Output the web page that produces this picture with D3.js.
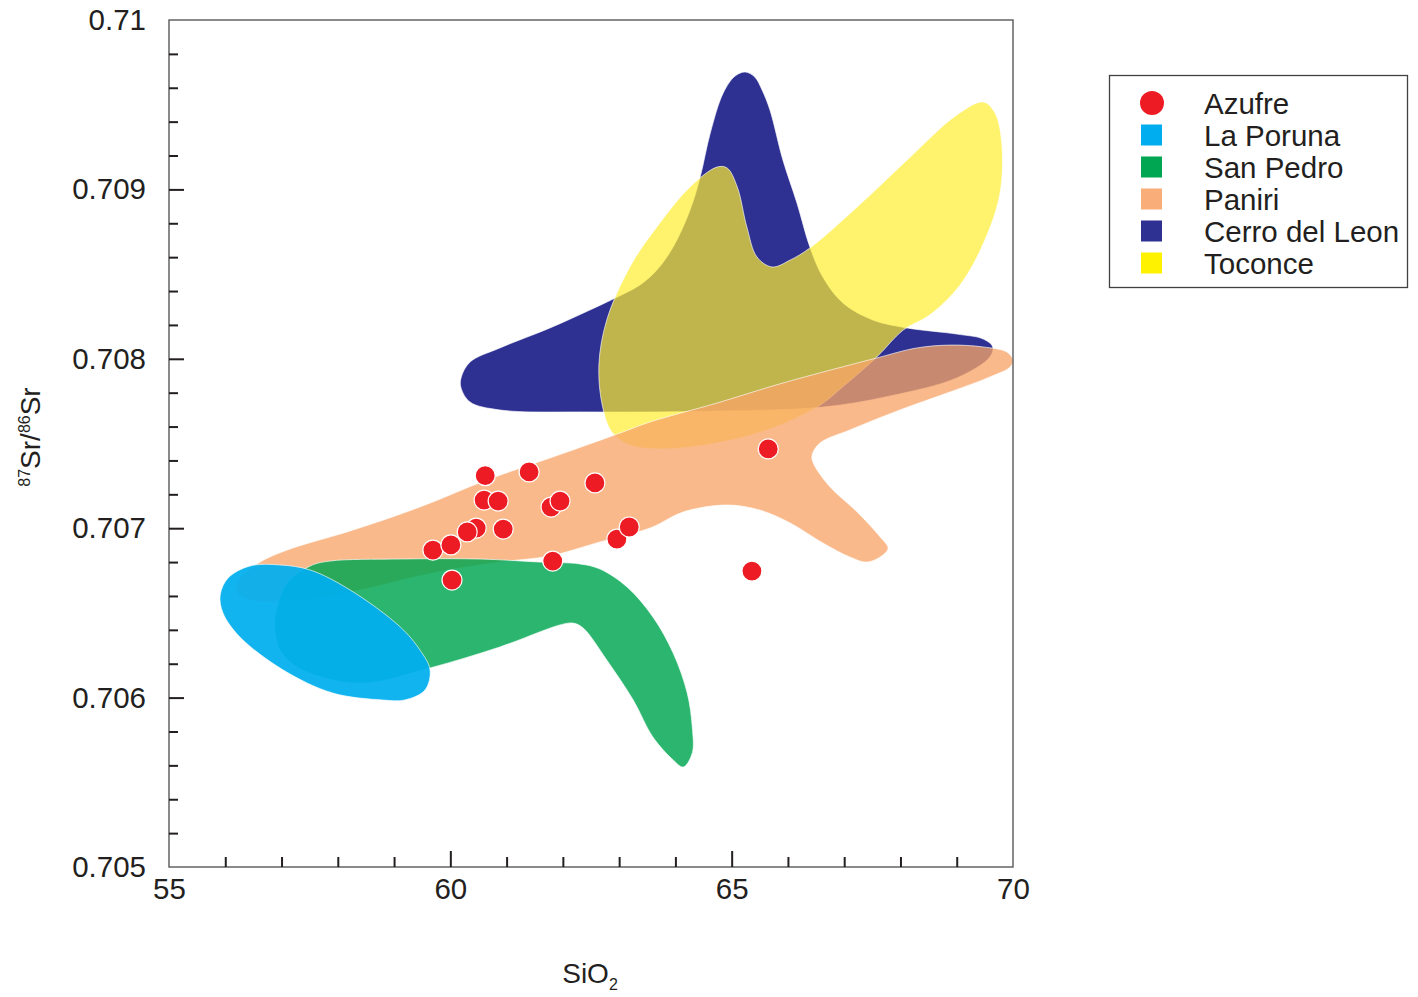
<!DOCTYPE html>
<html><head><meta charset="utf-8">
<script src="https://cdn.jsdelivr.net/npm/d3@7"></script>
<style>
body{margin:0;background:#fff;}
text{font-family:"Liberation Sans", Arial, Helvetica, sans-serif; fill:#231F20;}
</style></head><body>
<svg id="chart" width="1418" height="997"></svg>
<script>
// ---------- data ----------
const xMajorTicks = [55, 60, 65, 70];
const yMajorTicks = [0.705, 0.706, 0.707, 0.708, 0.709, 0.71];
const yTickLabels = ["0.705", "0.706", "0.707", "0.708", "0.709", "0.71"];
const legendNames = ["Azufre", "La Poruna", "San Pedro", "Paniri", "Cerro del Leon", "Toconce"];
const legendColors = ["#ED1C24", "#00AEEF", "#00A651", "#F9AD78", "#2E3192", "#FFF200"];

// Azufre samples: SiO2 (wt%) and 87Sr/86Sr
const azufreSiO2 = [60.62, 61.40, 62.57, 65.65, 60.60, 60.85, 61.79, 61.95, 60.94, 60.46, 60.30, 59.69, 60.01, 60.03, 61.82, 62.96, 63.18, 65.36];
const azufreSr   = [0.70731, 0.707332, 0.707267, 0.707468, 0.707166, 0.70716, 0.707125, 0.70716, 0.706995, 0.707001, 0.706978, 0.706871, 0.706901, 0.706694, 0.706806, 0.706936, 0.707007, 0.706747];

// Field outlines [SiO2, 87Sr/86Sr]
const cerroDelLeon = [
  [60.19,0.707887],[60.35,0.707981],[60.88,0.708064],[61.77,0.708182],[62.48,0.708288],[62.93,0.708359],
  [63.37,0.708436],[63.67,0.708524],[63.96,0.708660],[64.26,0.708878],[64.44,0.709073],[64.62,0.709333],
  [64.85,0.709569],[65.06,0.709669],[65.24,0.709693],[65.41,0.709664],[65.54,0.709587],[65.68,0.709469],
  [65.91,0.709174],[66.16,0.708920],[66.39,0.708660],[66.62,0.708483],[66.98,0.708329],[67.51,0.708229],
  [68.12,0.708182],[69.00,0.708146],[69.47,0.708117],[69.64,0.708070],[69.59,0.708011],[69.00,0.707887],
  [67.81,0.707780],[66.62,0.707715],[64.85,0.707692],[62.48,0.707686],[60.88,0.707698],[60.35,0.707745],
  [60.19,0.707828]
];
const toconce = [
  [64.74,0.709132],[64.92,0.709126],[65.10,0.709014],[65.27,0.708778],[65.45,0.708601],[65.72,0.708542],
  [66.04,0.708583],[66.39,0.708654],[67.23,0.708896],[68.12,0.709174],[69.00,0.709439],[69.47,0.709516],
  [69.68,0.709451],[69.80,0.709274],[69.77,0.708979],[69.50,0.708701],[69.06,0.708436],[68.52,0.708259],
  [68.05,0.708170],[67.58,0.708011],[67.01,0.707845],[66.52,0.707715],[65.63,0.707580],[64.74,0.707503],
  [63.73,0.707468],[63.19,0.707491],[62.87,0.707568],[62.70,0.707727],[62.64,0.707963],[62.78,0.708229],
  [63.19,0.708542],[63.67,0.708778],[64.26,0.709014]
];
const paniri = [
  [56.21,0.706623],[56.26,0.706706],[56.62,0.706800],[57.10,0.706871],[58.27,0.706989],[59.46,0.707125],
  [60.65,0.707285],[61.82,0.707420],[63.02,0.707562],[63.55,0.707627],[64.74,0.707739],[65.91,0.707857],
  [67.58,0.708005],[68.29,0.708064],[68.88,0.708081],[69.47,0.708070],[69.89,0.708040],[70.00,0.707993],
  [69.95,0.707952],[69.59,0.707893],[68.88,0.707804],[67.99,0.707698],[67.10,0.707580],[66.57,0.707503],
  [66.43,0.707432],[66.45,0.707385],[66.75,0.707243],[67.23,0.707096],[67.64,0.706948],[67.78,0.706883],
  [67.69,0.706842],[67.41,0.706800],[67.10,0.706830],[66.62,0.706913],[66.04,0.707031],[65.50,0.707107],
  [64.92,0.707137],[64.14,0.707096],[63.55,0.707001],[62.66,0.706919],[61.77,0.706836],[60.88,0.706800],
  [59.69,0.706736],[58.39,0.706635],[57.33,0.706576],[56.44,0.706576]
];
const sanPedro = [
  [57.51,0.706777],[57.86,0.706806],[59.11,0.706818],[60.53,0.706818],[61.59,0.706800],[62.30,0.706789],
  [62.66,0.706759],[63.14,0.706653],[63.60,0.706476],[63.96,0.706263],[64.21,0.706027],[64.30,0.705826],
  [64.30,0.705673],[64.14,0.705590],[63.96,0.705632],[63.60,0.705767],[63.25,0.705986],[62.78,0.706222],
  [62.36,0.706411],[62.18,0.706440],[61.95,0.706429],[60.88,0.706299],[59.64,0.706175],[58.52,0.706086],
  [57.91,0.706104],[57.27,0.706181],[56.97,0.706281],[56.88,0.706417],[56.92,0.706535],[57.10,0.706677]
];
const laPoruna = [
  [55.91,0.706606],[56.05,0.706706],[56.44,0.706777],[56.97,0.706783],[57.51,0.706753],[58.22,0.706635],
  [59.11,0.706417],[59.46,0.706281],[59.64,0.706163],[59.55,0.706045],[59.19,0.705986],[58.80,0.705986],
  [57.91,0.706027],[57.03,0.706163],[56.26,0.706358],[55.96,0.706499]
];

// ---------- chart ----------
const svg = d3.select("#chart");
const x = d3.scaleLinear().domain([55, 70]).range([169, 1013]);
const y = d3.scaleLinear().domain([0.705, 0.71]).range([867, 20]);

const fields = [
  {name: "Cerro del Leon", pts: cerroDelLeon, color: "#2E3192", op: 1},
  {name: "Toconce", pts: toconce, color: "#FFEE30", op: 0.7},
  {name: "Paniri", pts: paniri, color: "#F7A467", op: 0.77},
  {name: "San Pedro", pts: sanPedro, color: "#00A651", op: 0.83},
  {name: "La Poruna", pts: laPoruna, color: "#00AEEF", op: 0.93}
];
const line = d3.line().x(d => x(d[0])).y(d => y(d[1])).curve(d3.curveCatmullRomClosed.alpha(0.5));

const gFields = svg.append("g");
gFields.selectAll("path").data(fields).join("path")
  .attr("d", d => line(d.pts))
  .attr("fill", d => d.color)
  .attr("fill-opacity", d => d.op)
  .attr("stroke", "#fff")
  .attr("stroke-opacity", 0.8)
  .attr("stroke-width", 0.8);

// points
svg.append("g").selectAll("circle").data(azufreSiO2.map((v, i) => [v, azufreSr[i]])).join("circle")
  .attr("cx", d => x(d[0])).attr("cy", d => y(d[1])).attr("r", 10)
  .attr("fill", legendColors[0]).attr("stroke", "#fff").attr("stroke-width", 1.2);

// frame
svg.append("rect").attr("x", 169).attr("y", 20).attr("width", 844).attr("height", 847)
  .attr("fill", "none").attr("stroke", "#58595B").attr("stroke-width", 1.4);

// axes
const fontSize = 29.5;
const xMinor = d3.range(56, 70).filter(v => !xMajorTicks.includes(v));
const xAxisMinor = d3.axisBottom(x).tickValues(xMinor).tickSize(-10).tickFormat("");
const xAxisMajor = d3.axisBottom(x).tickValues(xMajorTicks).tickSize(-16).tickPadding(11).tickFormat(d3.format("d"));
const gx1 = svg.append("g").attr("transform", "translate(0,867)").call(xAxisMinor);
const gx2 = svg.append("g").attr("transform", "translate(0,867)").call(xAxisMajor);

const yMinor = d3.range(0, 26).map(i => +(0.705 + i * 0.0002).toFixed(4)).filter(v => !yMajorTicks.some(m => Math.abs(m - v) < 1e-9));
const yAxisMinor = d3.axisLeft(y).tickValues(yMinor).tickSize(-9).tickFormat("");
const yAxisMajor = d3.axisLeft(y).tickValues(yMajorTicks).tickSize(-15).tickPadding(23).tickFormat((d, i) => yTickLabels[i]);
const gy1 = svg.append("g").attr("transform", "translate(169,0)").call(yAxisMinor);
const gy2 = svg.append("g").attr("transform", "translate(169,0)").call(yAxisMajor);

[gx1, gx2, gy1, gy2].forEach(g => {
  g.select(".domain").remove();
  g.selectAll(".tick line").attr("stroke", "#231F20").attr("stroke-width", 2);
  g.selectAll(".tick text").style("font-family", '"Liberation Sans", Arial, sans-serif')
    .style("font-size", fontSize + "px").attr("fill", "#231F20");
});
// no tick marks at the frame corners
gx2.selectAll(".tick line").filter(d => d === 55 || d === 70).remove();
gy2.selectAll(".tick line").filter(d => d === 0.705 || d === 0.71).remove();

// axis titles
const xt = svg.append("text").attr("x", 590).attr("y", 983).attr("text-anchor", "middle").style("font-size", "28px");
xt.append("tspan").text("SiO");
xt.append("tspan").text("2").style("font-size", "16px").attr("dy", 7);

const yt = svg.append("text").attr("transform", "translate(40,437) rotate(-90)").attr("text-anchor", "middle").style("font-size", "28px");
yt.append("tspan").text("87").style("font-size", "16px").attr("dy", -10);
yt.append("tspan").text("Sr/").attr("dy", 10);
yt.append("tspan").text("86").style("font-size", "16px").attr("dy", -10);
yt.append("tspan").text("Sr").attr("dy", 10);

// legend
const lg = svg.append("g");
lg.append("rect").attr("x", 1109.5).attr("y", 75.5).attr("width", 298).attr("height", 212)
  .attr("fill", "#fff").attr("stroke", "#414042").attr("stroke-width", 1.3);
const items = lg.selectAll("g.item").data(legendNames).join("g").attr("class", "item")
  .attr("transform", (d, i) => `translate(0,${103 + i * 32})`);
items.each(function(d, i) {
  const g = d3.select(this);
  if (i === 0) {
    g.append("circle").attr("cx", 1152).attr("cy", 0).attr("r", 12).attr("fill", legendColors[i]);
  } else {
    g.append("rect").attr("x", 1141).attr("y", -10.5).attr("width", 21).attr("height", 21).attr("fill", legendColors[i]);
  }
  g.append("text").attr("x", 1204).attr("y", 11).style("font-size", "29.5px").text(d);
});
</script>
</body></html>
